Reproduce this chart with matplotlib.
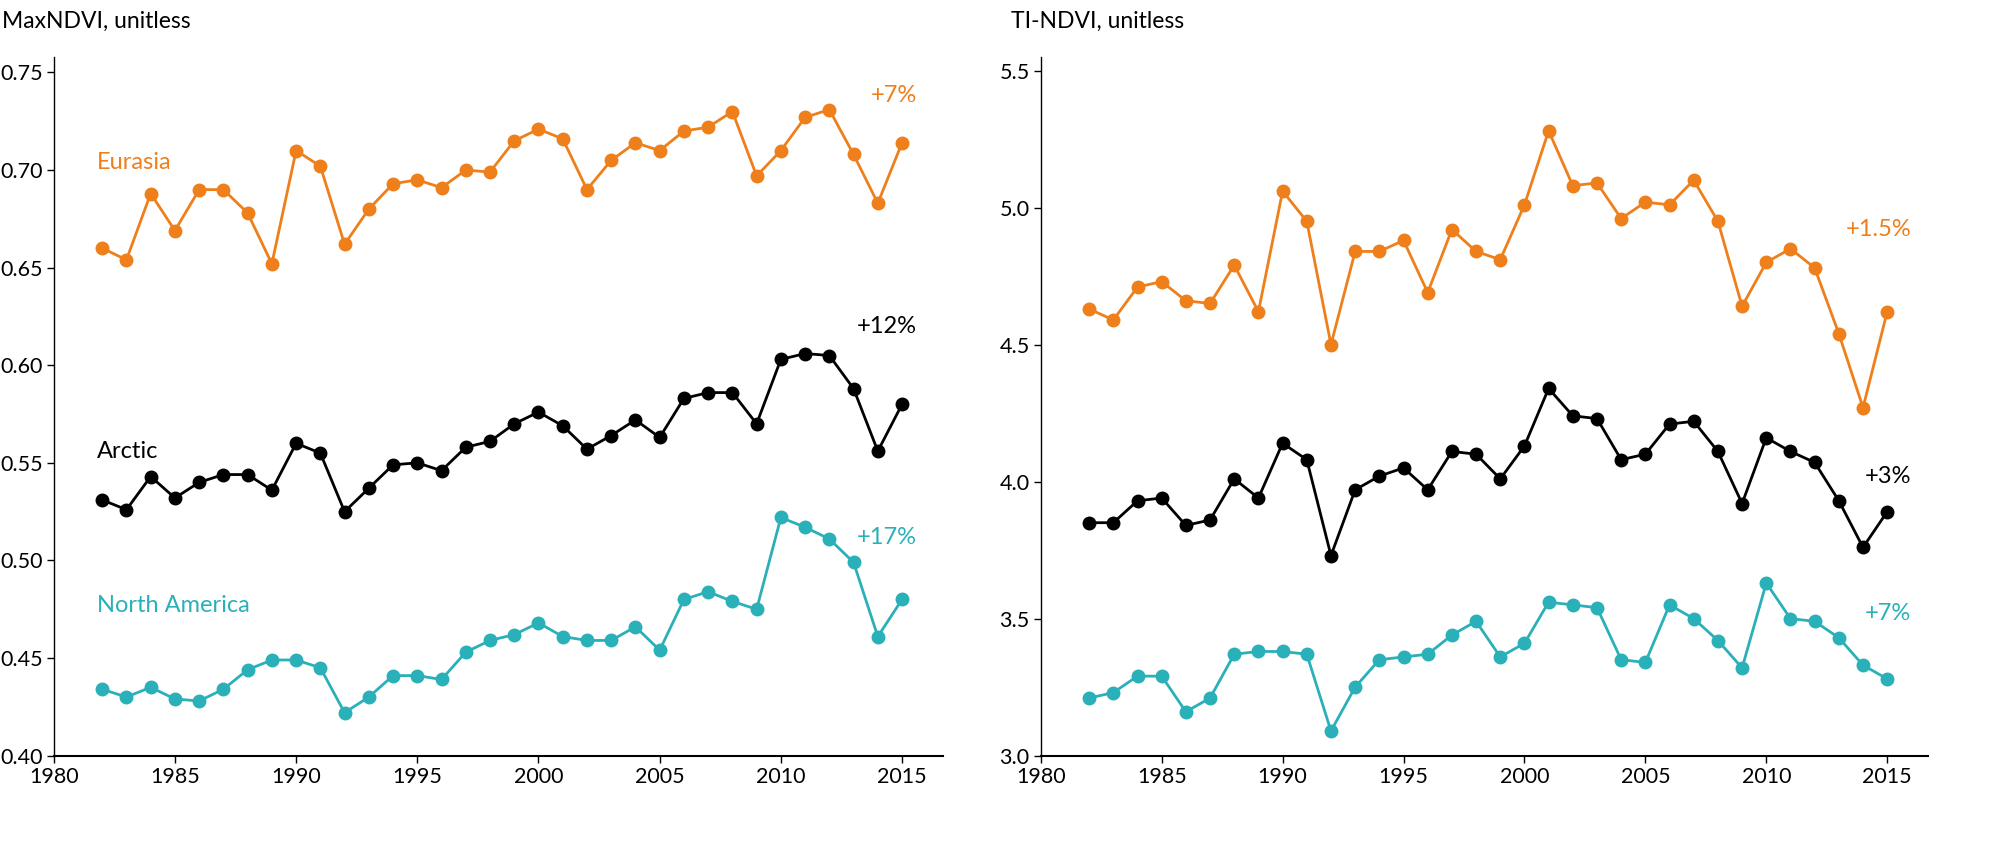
import matplotlib
matplotlib.use("Agg")
import matplotlib.pyplot as plt

plt.rcParams['font.family'] = ['Lato', 'DejaVu Sans']

years = list(range(1982, 2016))
max_eurasia = [0.660, 0.654, 0.688, 0.669, 0.690, 0.690, 0.678, 0.652, 0.710, 0.702, 0.662, 0.680, 0.693, 0.695, 0.691, 0.700, 0.699, 0.715, 0.721, 0.716, 0.690, 0.705, 0.714, 0.710, 0.720, 0.722, 0.730, 0.697, 0.710, 0.727, 0.731, 0.708, 0.683, 0.714]
max_arctic = [0.531, 0.526, 0.543, 0.532, 0.540, 0.544, 0.544, 0.536, 0.560, 0.555, 0.525, 0.537, 0.549, 0.550, 0.546, 0.558, 0.561, 0.570, 0.576, 0.569, 0.557, 0.564, 0.572, 0.563, 0.583, 0.586, 0.586, 0.570, 0.603, 0.606, 0.605, 0.588, 0.556, 0.580]
max_na = [0.434, 0.430, 0.435, 0.429, 0.428, 0.434, 0.444, 0.449, 0.449, 0.445, 0.422, 0.430, 0.441, 0.441, 0.439, 0.453, 0.459, 0.462, 0.468, 0.461, 0.459, 0.459, 0.466, 0.454, 0.480, 0.484, 0.479, 0.475, 0.522, 0.517, 0.511, 0.499, 0.461, 0.480]
ti_eurasia = [4.63, 4.59, 4.71, 4.73, 4.66, 4.65, 4.79, 4.62, 5.06, 4.95, 4.50, 4.84, 4.84, 4.88, 4.69, 4.92, 4.84, 4.81, 5.01, 5.28, 5.08, 5.09, 4.96, 5.02, 5.01, 5.10, 4.95, 4.64, 4.80, 4.85, 4.78, 4.54, 4.27, 4.62]
ti_arctic = [3.85, 3.85, 3.93, 3.94, 3.84, 3.86, 4.01, 3.94, 4.14, 4.08, 3.73, 3.97, 4.02, 4.05, 3.97, 4.11, 4.10, 4.01, 4.13, 4.34, 4.24, 4.23, 4.08, 4.10, 4.21, 4.22, 4.11, 3.92, 4.16, 4.11, 4.07, 3.93, 3.76, 3.89]
ti_na = [3.21, 3.23, 3.29, 3.29, 3.16, 3.21, 3.37, 3.38, 3.38, 3.37, 3.09, 3.25, 3.35, 3.36, 3.37, 3.44, 3.49, 3.36, 3.41, 3.56, 3.55, 3.54, 3.35, 3.34, 3.55, 3.50, 3.42, 3.32, 3.63, 3.50, 3.49, 3.43, 3.33, 3.28]

ORANGE = '#ee7f1a'
BLACK = '#000000'
TEAL = '#2ab0b8'

fig = plt.figure(figsize=(19.9, 8.49), dpi=100)
ax1 = fig.add_axes([0.027, 0.11, 0.447, 0.823])
ax2 = fig.add_axes([0.523, 0.11, 0.446, 0.823])

def style(ax, ylim, yticks, fmt):
    ax.set_xlim(1980, 2016.7)
    ax.set_ylim(*ylim)
    ax.set_xticks(range(1980, 2016, 5))
    ax.set_yticks(yticks)
    ax.set_yticklabels([fmt.format(v) for v in yticks])
    for s in ['top', 'right']:
        ax.spines[s].set_visible(False)
    ax.spines['left'].set_linewidth(1.0)
    ax.spines['bottom'].set_linewidth(1.5)
    ax.tick_params(labelsize=15.5, length=5, width=1, pad=3)

for ax, series in [(ax1, [(max_eurasia, ORANGE), (max_arctic, BLACK), (max_na, TEAL)]),
                   (ax2, [(ti_eurasia, ORANGE), (ti_arctic, BLACK), (ti_na, TEAL)])]:
    for vals, c in series:
        ax.plot(years, vals, '-o', color=c, lw=2, ms=9, clip_on=False)

style(ax1, (0.40, 0.758), [0.40, 0.45, 0.50, 0.55, 0.60, 0.65, 0.70, 0.75], '{:.2f}')
style(ax2, (3.0, 5.55), [3.0, 3.5, 4.0, 4.5, 5.0, 5.5], '{:.1f}')

fs = 17
ax1.text(1981.8, 0.704, 'Eurasia', color=ORANGE, fontsize=fs, va='center')
ax1.text(1981.8, 0.556, 'Arctic', color=BLACK, fontsize=fs, va='center')
ax1.text(1981.8, 0.477, 'North America', color=TEAL, fontsize=fs, va='center')
ax1.text(2015.6, 0.738, '+7%', color=ORANGE, fontsize=fs, ha='right', va='center')
ax1.text(2015.6, 0.620, '+12%', color=BLACK, fontsize=fs, ha='right', va='center')
ax1.text(2015.6, 0.512, '+17%', color=TEAL, fontsize=fs, ha='right', va='center')
ax2.text(2016.0, 4.92, '+1.5%', color=ORANGE, fontsize=fs, ha='right', va='center')
ax2.text(2016.0, 4.02, '+3%', color=BLACK, fontsize=fs, ha='right', va='center')
ax2.text(2016.0, 3.52, '+7%', color=TEAL, fontsize=fs, ha='right', va='center')

fig.text(0.001, 0.975, 'MaxNDVI, unitless', fontsize=16.5, va='center')
fig.text(0.508, 0.975, 'TI-NDVI, unitless', fontsize=16.5, va='center')

fig.savefig('out.png', dpi=100)
